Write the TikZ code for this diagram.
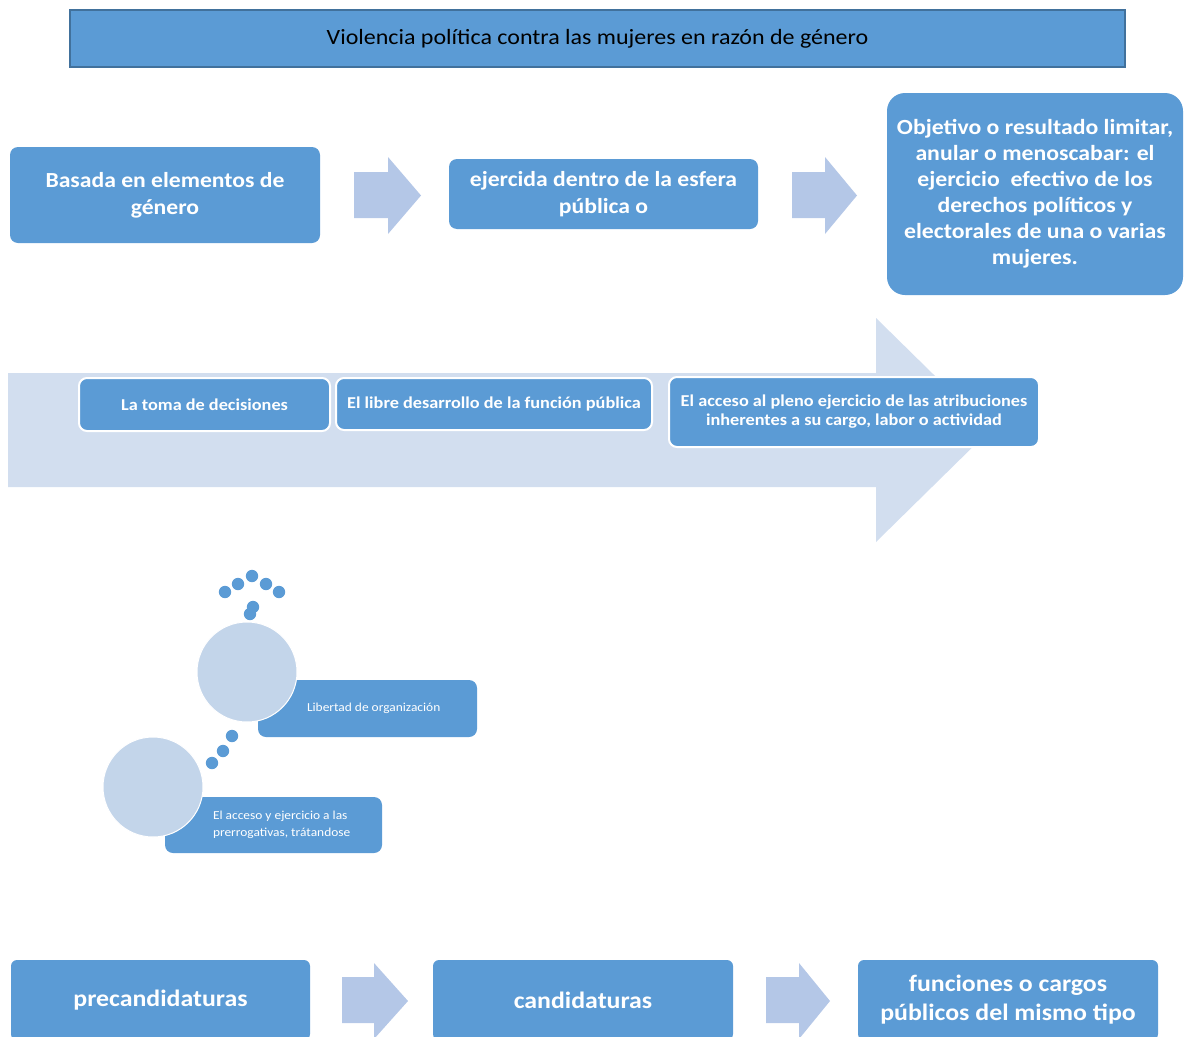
\documentclass[tikz,border=0pt]{standalone}
\usepackage{fontspec}
\setmainfont{Carlito}[FakeStretch=1.1]
\definecolor{boxblue}{RGB}{91,155,213}
\definecolor{titleedge}{RGB}{65,113,156}
\definecolor{chev}{RGB}{180,199,231}
\definecolor{bandcol}{RGB}{210,222,239}
\definecolor{circcol}{RGB}{195,213,234}
\begin{document}
\begin{tikzpicture}[x=1pt,y=-1pt,
  bigbox/.style={fill=boxblue, draw=none, rounded corners=8pt, text=white, align=center, inner sep=0pt,
     font=\fontsize{21.5}{27}\selectfont\bfseries},
  bandbox/.style={fill=boxblue, draw=white, line width=2pt, rounded corners=8pt, text=white, align=center, inner sep=0pt,
     font=\fontsize{16.6}{19}\selectfont\bfseries},
  cbox/.style={fill=boxblue, draw=none, rounded corners=8pt, inner sep=0pt},
  ctext/.style={text=white, align=left, inner sep=0pt, font=\fontsize{12.2}{17}\selectfont},
  circ/.style={circle, fill=circcol, draw=white, line width=1pt, minimum size=100pt, inner sep=0pt},
  dotc/.style={fill=boxblue, draw=none},
  chevron/.style={fill=chev, draw=none},
]
\clip (0,0) rectangle (1185,1036);
\useasboundingbox (0,0) rectangle (1185,1036);

% title
\node[draw=titleedge, line width=2pt, fill=boxblue, minimum width=1055pt, minimum height=57pt, inner sep=0pt,
  font=\fontsize{21.8}{24}\selectfont] (title) at (597.5,38.5) {Violencia política contra las mujeres en razón de género};

% top row
\node[bigbox, minimum width=310pt, minimum height=96pt] (b1) at (165,195) {Basada en elementos de\\género};
\fill[chevron] (354,172) -- (388,172) -- (388,157) -- (421,195.5) -- (388,234) -- (388,218) -- (354,218) -- cycle;
\node[bigbox, minimum width=309pt, minimum height=70pt] (b2) at (603.5,194) {ejercida dentro de la esfera\\pública o};
\fill[chevron] (792,172) -- (825,172) -- (825,157) -- (857,195.5) -- (825,234) -- (825,218) -- (792,218) -- cycle;
\node[bigbox, rounded corners=18pt, minimum width=296pt, minimum height=202pt, font=\fontsize{21.6}{26}\selectfont\bfseries] (b3) at (1035,194)
  {Objetivo o resultado limitar,\\anular o menoscabar: el\\ejercicio\ \ efectivo de los\\derechos políticos y\\electorales de una o varias\\mujeres.};

% big band arrow
\fill[bandcol] (8,373) -- (876,373) -- (876,318) -- (990,430) -- (876,542) -- (876,487) -- (8,487) -- cycle;
\node[bandbox, minimum width=251pt, minimum height=53pt] (t1) at (204.5,404.5) {La toma de decisiones};
\node[bandbox, minimum width=316pt, minimum height=52pt] (t2) at (494,404) {El libre desarrollo de la función pública};
\node[bandbox, minimum width=370pt, minimum height=70pt] (t3) at (854,412) {El acceso al pleno ejercicio de las atribuciones\\inherentes a su cargo, labor o actividad};

% circles part
\foreach \px/\py in {225/592,238/584,252/576,266/584,279/592,250/614,253/607,232/736,223/751,212/763}
  \fill[dotc] (\px,\py) circle (6.2pt);
\node[cbox, minimum width=219pt, minimum height=57pt] (lib) at (367.5,708.5) {};
\node[ctext, anchor=west] (libt) at ([xshift=49pt]lib.west) {Libertad de organización};
\node[circ] (c1) at (247,672) {};
\node[cbox, minimum width=217pt, minimum height=56pt] (acc) at (273.5,825) {};
\node[ctext, anchor=west] (acct) at ([xshift=48pt]acc.west) {El acceso y ejercicio a las\\prerrogativas, trátandose};
\node[circ] (c2) at (153,787) {};

% bottom row
\node[bigbox, rounded corners=6pt, minimum width=299pt, minimum height=80pt, font=\fontsize{23.5}{29}\selectfont\bfseries] (p1) at (160.5,1000) {precandidaturas};
\fill[chevron] (342,977) -- (374,977) -- (374,963) -- (408,1001) -- (374,1039) -- (374,1023) -- (342,1023) -- cycle;
\node[bigbox, rounded corners=6pt, minimum width=300pt, minimum height=80pt, font=\fontsize{23.5}{29}\selectfont\bfseries] (p2) at (583,1000) {candidaturas};
\fill[chevron] (766,977) -- (799,977) -- (799,963) -- (830,1001) -- (799,1039) -- (799,1023) -- (766,1023) -- cycle;
\node[bigbox, rounded corners=6pt, minimum width=300pt, minimum height=80pt, font=\fontsize{23.5}{29}\selectfont\bfseries] (p3) at (1008,1000) {funciones o cargos\\públicos del mismo tipo};
\end{tikzpicture}
\end{document}
